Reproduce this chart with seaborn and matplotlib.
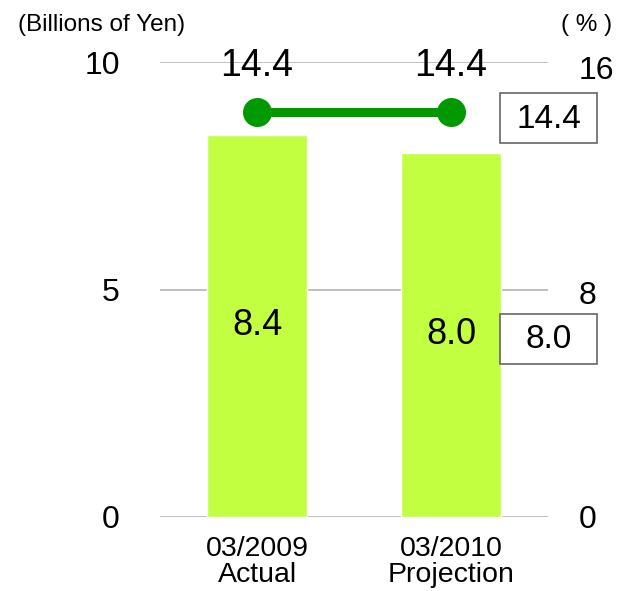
import matplotlib
matplotlib.use("Agg")
import matplotlib.pyplot as plt
from matplotlib.patches import Rectangle
import seaborn as sns
import pandas as pd

categories = ["03/2009\nActual", "03/2010\nProjection"]
income = [8.4, 8.0]          # Billions of Yen (left axis)
ratio = [14.4, 14.4]         # % (right axis)
left_ticks = [0, 5, 10]
right_ticks = [0, 8, 16]

sns.set_theme(style="white")
plt.rcParams['font.family'] = ['Liberation Sans', 'DejaVu Sans']
plt.rcParams['text.color'] = 'black'
plt.rcParams['xtick.color'] = 'black'
plt.rcParams['ytick.color'] = 'black'

W, H = 625, 591
fig = plt.figure(figsize=(6.25, 5.91), dpi=100)
ax = fig.add_axes([160/W, 1 - 517/H, (548-160)/W, (517-62)/H])

df = pd.DataFrame({"cat": categories, "income": income, "ratio": ratio})
sns.barplot(data=df, x="cat", y="income", ax=ax, color="#C3FF41",
            saturation=1, width=0.52, zorder=3)
ax.set_ylim(0, 10)
ax.set_xlim(-0.5, 1.5)
ax.set_yticks(left_ticks)
ax.yaxis.grid(True, color="#B4B4B4", linewidth=1.2, zorder=0)
ax.set_axisbelow(True)
for s in ax.spines.values():
    s.set_visible(False)
ax.tick_params(axis="y", length=0, pad=29, labelsize=23, labelcolor="black")
ax.tick_params(axis="x", length=0, pad=14, labelsize=20.5, labelcolor="black")
ax.set_xlabel("")
ax.set_ylabel("")
for lab in ax.get_xticklabels():
    lab.set_linespacing(1.0)

for i, v in enumerate(income):
    ax.text(i, v / 2, f"{v:.1f}", ha="center", va="center", fontsize=26, color="black", zorder=5)

ax2 = ax.twinx()
sns.pointplot(data=df, x="cat", y="ratio", ax=ax2, color="#009900",
              markers="o", markersize=16, linewidth=6.5, zorder=4)
ax2.set_ylim(0, 16.18)
ax2.set_xlim(-0.5, 1.5)
ax2.set_yticks(right_ticks)
ax2.tick_params(axis="y", length=0, pad=22, labelsize=23, labelcolor="black")
for s in ax2.spines.values():
    s.set_visible(False)
ax2.set_ylabel("")
ax2.set_xlabel("")
for i, v in enumerate(ratio):
    ax2.text(i, 16.04, f"{v:.1f}", ha="center", va="center", fontsize=27, color="black", zorder=5)

# legend-like value boxes on the right
for (cy, txt) in [(118, "14.4"), (338.5, "8.0")]:
    fig.patches.append(Rectangle((500/W, 1 - (cy + 25)/H), 97/W, 50/H,
                                 transform=fig.transFigure, fc="white",
                                 ec="#666666", lw=1.2))
    fig.text(548.5/W, 1 - (cy + 1)/H, txt, ha="center", va="center", fontsize=24,
             color="black")

fig.text(18/W, 1 - 25/H, "(Billions of Yen)", ha="left", va="center", fontsize=17.5,
         color="black")
fig.text(612/W, 1 - 25/H, "( % )", ha="right", va="center", fontsize=17.5, color="black")

fig.savefig("out.png", dpi=100)
